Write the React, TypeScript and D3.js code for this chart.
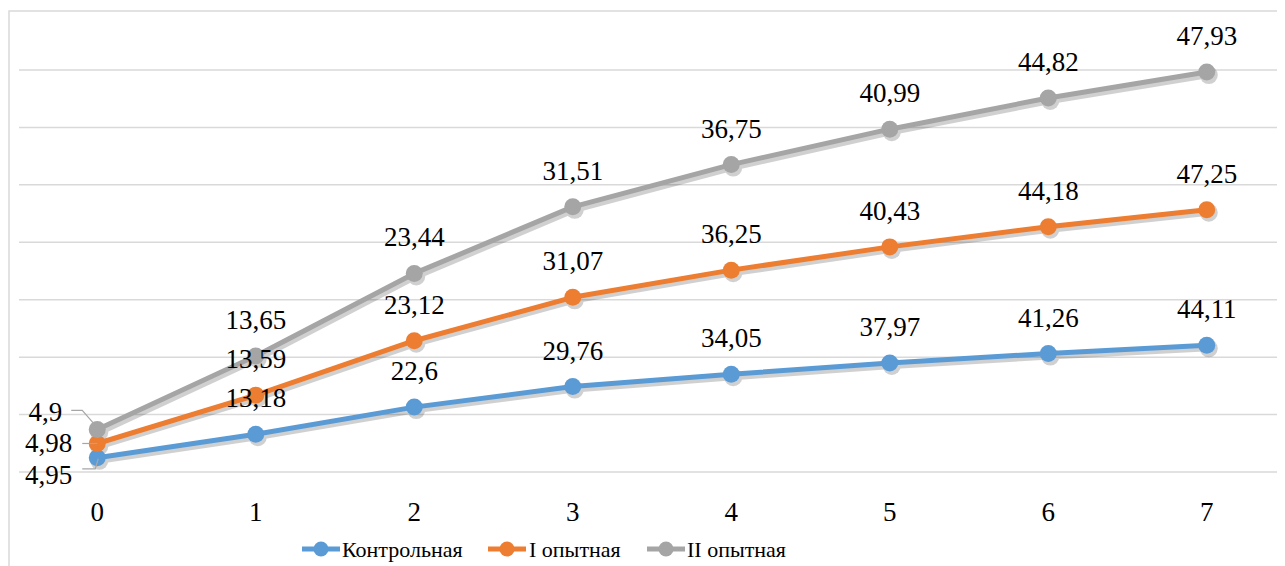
import React, { useEffect, useRef } from "react";
import * as d3 from "d3";

const categories = ["0", "1", "2", "3", "4", "5", "6", "7"];
const control = [4.95, 13.18, 22.6, 29.76, 34.05, 37.97, 41.26, 44.11];
const exp1 = [4.98, 13.59, 23.12, 31.07, 36.25, 40.43, 44.18, 47.25];
const exp2 = [4.9, 13.65, 23.44, 31.51, 36.75, 40.99, 44.82, 47.93];
const seriesNames = ["Контрольная", "I опытная", "II опытная"];
const colors = ["#5b9bd5", "#ed7d31", "#a5a5a5"];
const yTicks = [0, 20, 40, 60, 80, 100, 120, 140];

const W = 1277;
const H = 558;
const F = "Liberation Serif";

export default function App() {
  const ref = useRef<SVGSVGElement>(null);
  useEffect(() => {
    if (!ref.current) return;
    d3.select(ref.current)
      .selectAll<SVGTextElement, unknown>("text")
      .each(function () {
        this.style.setProperty("font-family", '"Liberation Serif", "Times New Roman", Tinos, serif', "important");
      });
  }, []);

  const series = [control, exp1, exp2];
  // stacked line chart
  const stacked: number[][] = [];
  series.forEach((s, i) => {
    stacked.push(s.map((v, j) => v + (i > 0 ? stacked[i - 1][j] : 0)));
  });

  const x = d3.scalePoint<string>().domain(categories).range([18, 1286]).padding(0.5);
  const y = d3.scaleLinear().domain([0, 140]).range([472, 70]);

  const line = d3
    .line<number>()
    .x((_, i) => x(categories[i]) as number)
    .y((d) => y(d));

  // manually moved labels at the first category (as in the original)
  const firstLabel = [
    { dx: -25, dy: 26, leader: [[-15, 11], [-2, 11], [1, 1]] },
    { dx: -25, dy: 8.5, leader: [[-15, 0], [0, 0]] },
    { dx: -35, dy: -8.5, leader: [[-26, -19], [-15, -19], [-1, -3]] },
  ];

  const legendItems = [
    { lx: 302, tx: 342 },
    { lx: 488, tx: 529 },
    { lx: 647, tx: 687 },
  ];

  const ts: React.CSSProperties = { fontFamily: F };

  return (
    <svg ref={ref} id="chart" width={W} height={H}>
      <g transform="translate(-8,-8)">
        <rect x={0} y={0} width={1285} height={566} fill="#fff" />
        <rect x={9} y={11} width={1300} height={600} fill="none" stroke="#d9d9d9" strokeWidth={1.5} />
        {yTicks.map((t) => (
          <line key={t} x1={19} x2={1285} y1={y(t)} y2={y(t)} stroke="#d9d9d9" strokeWidth={1.5} />
        ))}
        {categories.map((c) => (
          <text key={c} x={x(c)} y={521} textAnchor="middle" style={ts} fontSize={27} fill="#000">
            {c}
          </text>
        ))}
        {stacked.map((s, i) => (
          <g key={`sh${i}`} opacity={0.18} transform="translate(2,3)">
            <path d={line(s) || ""} fill="none" stroke="#000" strokeWidth={6} strokeLinejoin="round" />
            {s.map((v, j) => (
              <circle key={j} cx={x(categories[j])} cy={y(v)} r={9} fill="#000" />
            ))}
          </g>
        ))}
        {stacked.map((s, i) => (
          <g key={i}>
            <path d={line(s) || ""} fill="none" stroke={colors[i]} strokeWidth={5} strokeLinejoin="round" />
            {s.map((v, j) => (
              <circle key={j} cx={x(categories[j])} cy={y(v)} r={8.5} fill={colors[i]} />
            ))}
          </g>
        ))}
        {stacked.map((s, i) =>
          s.map((v, j) => {
            const px = x(categories[j]) as number;
            const py = y(v);
            const label = String(series[i][j]).replace(".", ",");
            if (j === 0) {
              const f = firstLabel[i];
              const pts = f.leader.map(([a, b]) => [px + a, py + b]);
              return (
                <g key={`${i}-${j}`}>
                  <polyline points={pts.map((p) => p.join(",")).join(" ")} fill="none" stroke="#a6a6a6" strokeWidth={1.2} />
                  <text x={px + f.dx} y={py + f.dy} textAnchor="end" style={ts} fontSize={27} fill="#000">
                    {label}
                  </text>
                </g>
              );
            }
            return (
              <text key={`${i}-${j}`} x={px} y={py - 27} textAnchor="middle" style={ts} fontSize={27} fill="#000">
                {label}
              </text>
            );
          })
        )}
        {legendItems.map((it, i) => (
          <g key={i}>
            <line x1={it.lx} x2={it.lx + 38} y1={549} y2={549} stroke={colors[i]} strokeWidth={5} />
            <circle cx={it.lx + 19} cy={549} r={7.5} fill={colors[i]} />
            <text x={it.tx} y={557} style={ts} fontSize={22} fill="#000">
              {seriesNames[i]}
            </text>
          </g>
        ))}
      </g>
    </svg>
  );
}
